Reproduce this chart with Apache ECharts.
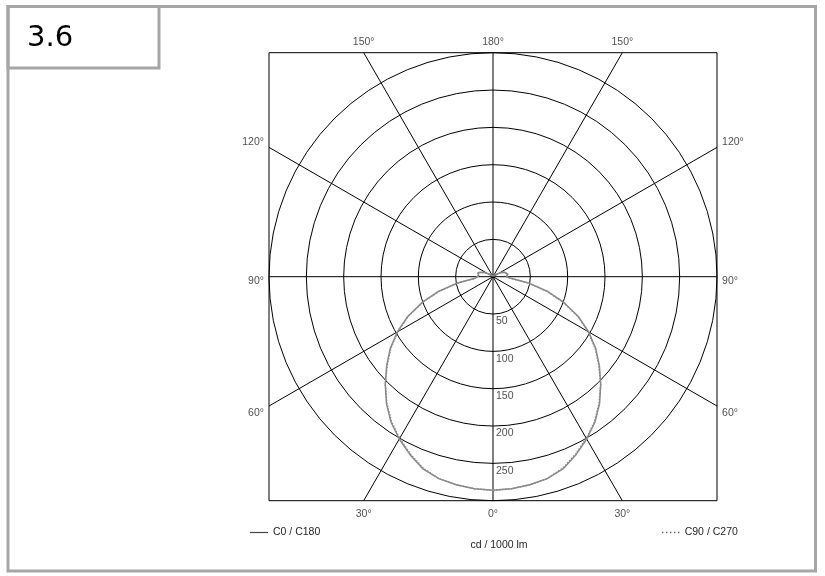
<!DOCTYPE html>
<html>
<head>
<meta charset="utf-8">
<script src="https://cdn.jsdelivr.net/npm/echarts@6/dist/echarts.min.js"></script>
<style>
html,body{margin:0;padding:0;background:#fff;}
#chart{width:825px;height:576px;}
</style>
</head>
<body>
<div id="chart"></div>
<script>
// ---- data ----
const gammaDeg = [0,5,10,15,20,25,30,35,40,45,50,55,60,65,70,75,80,85,90,95,100,105,110,115,120,125,130,135,140,145,150,155,160,165,170,175,180];
const c0c180  = [286,285,283,280,274,263,251,238,222,204,186,168,148,126,101,75,48,24,18,19,20,21,17,13,9,5,3,2,1,1,0,0,0,0,0,0,0];
const c90c270 = [286,285,283,280,273,262,250,237,221,204,185,167,147,125,100,74,47,24,18,19,20,21,17,13,9,5,3,2,1,1,0,0,0,0,0,0,0];
const radiusTicks = [50,100,150,200,250];
const radiusMax = 300;
const radiusStep = 50;
const lineDirections = [0,30,60,90,120,150,180,210,240,270,300,330];
const angleLabels = ['0°','30°','60°','90°','120°','150°','180°','150°','120°','90°','60°','30°'];
const legendNames = ['C0 / C180','C90 / C270'];
const unitLabel = 'cd / 1000 lm';
const titleText = '3.6';

// ---- style constants ----
const FONT = 'Liberation Sans, Arial, sans-serif';
const TXT = '#1e1e1e';
const CURVE = '#8a8a8a';
const FRAME = '#a6a6a6';
const sideLabelShift = {60: 7, 90: 4, 120: -5, 240: -5, 270: 4, 300: 7};
const ICON_SOLID = 'path://M0,0H18V1.2H0Z';
const ICON_DOTS = 'path://M0,0h1.4v1.4h-1.4z M4,0h1.4v1.4h-1.4z M8,0h1.4v1.4h-1.4z M12,0h1.4v1.4h-1.4z M16,0h1.4v1.4h-1.4z';

const chart = echarts.init(document.getElementById('chart'), null, {renderer: 'canvas'});

function curveData(vals) {
  const pts = [];
  for (let i = 0; i < gammaDeg.length; i++) pts.push([vals[i], gammaDeg[i]]);
  for (let i = gammaDeg.length - 2; i >= 0; i--) pts.push([vals[i], 360 - gammaDeg[i]]);
  return pts;
}
function edgePoint(a) {
  const r = a * Math.PI / 180;
  const dx = Math.sin(r), dy = -Math.cos(r);
  const t = radiusMax / Math.max(Math.abs(dx), Math.abs(dy));
  return [t * dx, t * dy];
}

const series = [];
// radial lines to the box edges
for (let a = 0; a < 180; a += 30) {
  series.push({
    type: 'line', xAxisIndex: 0, yAxisIndex: 0, silent: true, symbol: 'none',
    lineStyle: {color: '#000', width: 1}, z: 2,
    data: [edgePoint(a), edgePoint(a + 180)]
  });
}
// angle labels
series.push({
  type: 'scatter', xAxisIndex: 0, yAxisIndex: 0, silent: true, symbolSize: 0.1,
  itemStyle: {color: 'transparent'}, z: 3,
  data: lineDirections.map((a, i) => {
    const p = edgePoint(a);
    const r = a * Math.PI / 180;
    const s = Math.abs(Math.sin(r)), c = Math.abs(Math.cos(r));
    let pos, dist, off = [0, 0];
    if (c >= s - 1e-6) { pos = p[1] < 0 ? 'bottom' : 'top'; dist = p[1] < 0 ? 8 : 5; }
    else { pos = p[0] > 0 ? 'right' : 'left'; dist = 5; off = [0, sideLabelShift[a] || 0]; }
    return {value: p, label: {show: true, position: pos, distance: dist, offset: off,
      formatter: angleLabels[i], color: TXT, fontSize: 10.5, fontFamily: FONT}};
  })
});
// curves
series.push({
  name: legendNames[0], type: 'line', coordinateSystem: 'polar', symbol: 'none', silent: true,
  lineStyle: {color: CURVE, width: 1.5, type: 'solid'}, itemStyle: {color: CURVE}, z: 5,
  data: curveData(c0c180)
});
series.push({
  name: legendNames[1], type: 'line', coordinateSystem: 'polar', symbol: 'none', silent: true,
  lineStyle: {color: CURVE, width: 1.5, type: 'dotted'}, itemStyle: {color: CURVE}, z: 6,
  data: curveData(c90c270)
});
// radius tick labels
series.push({
  type: 'scatter', coordinateSystem: 'polar', silent: true, symbolSize: 0.1,
  itemStyle: {color: 'transparent'}, z: 7,
  data: radiusTicks.map(v => ({value: [v, 0], label: {show: true, position: [3, 2],
    formatter: String(v), color: TXT, fontSize: 10.5, fontFamily: FONT, align: 'left', verticalAlign: 'top'}}))
});

const option = {
  animation: false,
  backgroundColor: '#fff',
  grid: {left: 269, top: 52.7, width: 448, height: 448, show: true, borderColor: '#000', borderWidth: 1, backgroundColor: 'transparent'},
  xAxis: {type: 'value', min: -radiusMax, max: radiusMax, show: false},
  yAxis: {type: 'value', min: -radiusMax, max: radiusMax, show: false},
  polar: {center: [493, 276.7], radius: 224},
  angleAxis: {type: 'value', min: 0, max: 360, startAngle: 270, clockwise: false,
    axisLine: {show: false}, axisTick: {show: false}, axisLabel: {show: false}, splitLine: {show: false}},
  radiusAxis: {type: 'value', min: 0, max: radiusMax, interval: radiusStep,
    axisLine: {show: false}, axisTick: {show: false}, axisLabel: {show: false},
    splitLine: {show: true, lineStyle: {color: '#000', width: 1}}},
  legend: [
    {data: [{name: legendNames[0], icon: ICON_SOLID}], left: 245, top: 522, itemWidth: 18, itemHeight: 1.2, itemGap: 5,
      itemStyle: {color: '#444'}, textStyle: {color: TXT, fontSize: 10.5, fontFamily: FONT}},
    {data: [{name: legendNames[1], icon: ICON_DOTS}], left: 657, top: 522, itemWidth: 18, itemHeight: 1.4, itemGap: 5,
      itemStyle: {color: '#666'}, textStyle: {color: TXT, fontSize: 10.5, fontFamily: FONT}}
  ],
  title: {text: unitLabel, left: 494, top: 535, textAlign: 'center',
    textStyle: {color: TXT, fontSize: 10.5, fontWeight: 'normal', fontFamily: FONT}},
  graphic: [
    {type: 'rect', silent: true, z: 100, shape: {x: 8, y: 6.5, width: 807.5, height: 564.5},
      style: {fill: 'none', stroke: FRAME, lineWidth: 3}},
    {type: 'rect', silent: true, z: 100, shape: {x: 8, y: 6.5, width: 151, height: 61.5},
      style: {fill: 'none', stroke: FRAME, lineWidth: 3}},
    {type: 'text', silent: true, z: 100, style: {x: 27, y: 38, text: titleText, fill: '#000',
      font: '29px "DejaVu Sans", sans-serif', verticalAlign: 'middle', align: 'left'}}
  ],
  series: series
};
chart.setOption(option);
</script>
</body>
</html>
